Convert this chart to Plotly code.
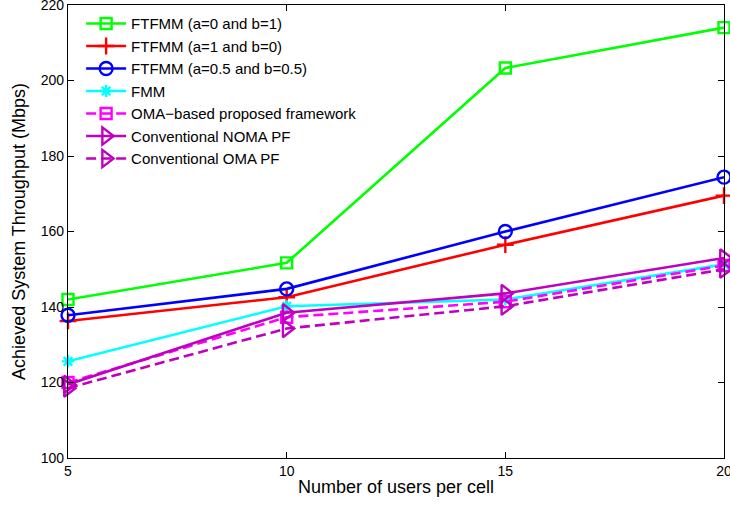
import plotly.graph_objects as go

users = [5, 10, 15, 20]
ftfmm_a0_b1 = [142.0, 151.7, 203.3, 214.0]
ftfmm_a1_b0 = [136.3, 142.6, 156.5, 169.5]
ftfmm_a05_b05 = [137.8, 144.8, 160.0, 174.4]
fmm = [125.6, 140.2, 142.0, 151.3]
oma_proposed = [120.0, 137.3, 141.4, 151.0]
noma_pf = [119.5, 138.5, 143.6, 153.0]
oma_pf = [118.5, 134.3, 140.2, 150.0]

y_ticks = [100, 120, 140, 160, 180, 200, 220]
x_ticks = [5, 10, 15, 20]

series = [
    ("FTFMM (a=0 and b=1)", ftfmm_a0_b1, "#00ff00", "solid", "square-open", 11),
    ("FTFMM (a=1 and b=0)", ftfmm_a1_b0, "#ff0000", "solid", "cross-thin-open", 12),
    ("FTFMM (a=0.5 and b=0.5)", ftfmm_a05_b05, "#0000ff", "solid", "circle-open", 13),
    ("FMM", fmm, "#00ffff", "solid", "asterisk-open", 10),
    ("OMA\u2212based proposed framework", oma_proposed, "#ff00ff", "10px,5px", "square-open", 11),
    ("Conventional NOMA PF", noma_pf, "#bf00bf", "solid", "triangle-right-open", 15),
    ("Conventional OMA PF", oma_pf, "#bf00bf", "10px,5px", "triangle-right-open", 15),
]

fig = go.Figure()
for name, ys, color, dash, sym, size in series:
    fig.add_trace(go.Scatter(
        x=users, y=ys, name=name, mode="lines+markers",
        line=dict(color=color, width=2.6, dash=dash),
        marker=dict(symbol=sym, size=size, color=color, line=dict(color=color, width=2.4)),
        cliponaxis=False,
    ))

axis_common = dict(
    showline=True, linecolor="black", linewidth=1.2, mirror="ticks",
    ticks="inside", ticklen=6, tickcolor="black", showgrid=False, zeroline=False,
    automargin=False, ticklabeloverflow="allow",
    tickfont=dict(family="Liberation Sans, Arial, sans-serif", size=14, color="black"),
)

fig.update_layout(
    width=730, height=506,
    margin=dict(l=68, r=6, t=5, b=48),
    paper_bgcolor="white", plot_bgcolor="white",
    font=dict(family="Liberation Sans, Arial, sans-serif", color="black"),
    xaxis=dict(range=[5, 20], tickvals=x_ticks, ticktext=[str(v) for v in x_ticks],
               title=dict(text="Number of users per cell", font=dict(size=18), standoff=2),
               **axis_common),
    yaxis=dict(range=[100, 220], tickvals=y_ticks, ticktext=[str(v) for v in y_ticks],
               title=dict(text="Achieved System Throughput (Mbps)", font=dict(size=18), standoff=10),
               **axis_common),
    legend=dict(x=0.02, y=0.995, xanchor="left", yanchor="top",
                bgcolor="rgba(255,255,255,0)", borderwidth=0,
                font=dict(size=15, color="black"), tracegroupgap=0, itemwidth=40),
    showlegend=True,
)

fig.write_html("out.html", config={"displayModeBar": False},
               post_script="document.body.style.margin='0';document.body.style.overflow='hidden';")
